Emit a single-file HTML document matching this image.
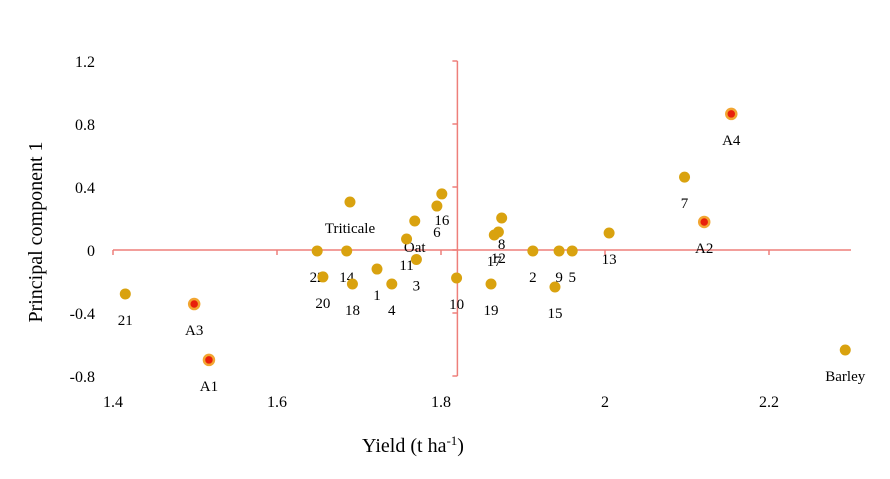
<!DOCTYPE html>
<html><head><meta charset="utf-8">
<style>
html,body{margin:0;padding:0;background:#fff;}
svg{display:block;font-family:"Liberation Serif",serif;}
</style></head>
<body>
<svg id="chart" width="890" height="479">
<g id="axes"></g><g id="marks"></g>
<text x="413" y="452" font-size="20" text-anchor="middle">Yield (t  ha<tspan dy="-7" font-size="13">-1</tspan><tspan dy="7">)</tspan></text>
<text transform="translate(42,232) rotate(-90)" font-size="20" text-anchor="middle">Principal component 1</text>
</svg>
<script>
const names=["Triticale","16","6","Oat","11","3","8","12","17","22","14","20","18","1","4","10","19","2","9","5","13","15","21","A3","A1","7","A2","A4","Barley"];
const yieldVals=[1.689,1.801,1.795,1.768,1.758,1.770,1.874,1.870,1.865,1.649,1.685,1.656,1.692,1.722,1.740,1.819,1.861,1.912,1.944,1.960,2.005,1.939,1.415,1.499,1.517,2.097,2.121,2.154,2.293];
const pcVals=[0.305,0.356,0.279,0.184,0.070,-0.060,0.203,0.114,0.095,-0.006,-0.006,-0.171,-0.216,-0.121,-0.216,-0.178,-0.216,-0.006,-0.006,-0.006,0.108,-0.235,-0.279,-0.343,-0.698,0.463,0.178,0.864,-0.635];
const highlighted=[0,0,0,0,0,0,0,0,0,0,0,0,0,0,0,0,0,0,0,0,0,0,0,1,1,0,1,1,0];
const xTicks=[1.4,1.6,1.8,2,2.2];
const yTicks=[1.2,0.8,0.4,0,-0.4,-0.8];
const xCross=1.82;
const NS="http://www.w3.org/2000/svg";
function sx(v){return 113+(v-1.4)*820;}
function sy(v){return 250-v*157.5;}
function mk(tag,attrs,parent,text){const e=document.createElementNS(NS,tag);for(const k in attrs)e.setAttribute(k,attrs[k]);if(text!==undefined)e.textContent=text;parent.appendChild(e);return e;}
const axes=document.getElementById('axes'),marks=document.getElementById('marks');
const ac="#ee7f7a";
let l=mk('line',{x1:sx(1.4),x2:851,y1:sy(0),y2:sy(0),stroke:ac,'stroke-width':1.5},axes);


l=mk('line',{x1:sx(xCross),x2:sx(xCross),y1:sy(1.2),y2:sy(-0.8),stroke:ac,'stroke-width':1.5},axes);


xTicks.forEach(t=>{
 const tk=mk('line',{x1:sx(t),x2:sx(t),y1:sy(0),y2:sy(0)+5,stroke:ac,'stroke-width':1.5},axes);
 
 
 const tx=mk('text',{x:sx(t),y:407,'font-size':16,'text-anchor':'middle'},axes,String(t));
 
 
});
yTicks.forEach(t=>{
 const tk=mk('line',{x1:sx(xCross)-5,x2:sx(xCross),y1:sy(t),y2:sy(t),stroke:ac,'stroke-width':1.5},axes);
 
 
 const tx=mk('text',{x:95,y:sy(t)+6,'font-size':16,'text-anchor':'end'},axes,String(t));
 
 
});
names.forEach((n,i)=>{
 const cx=sx(yieldVals[i]),cy=sy(pcVals[i]);
 let c;
 if(highlighted[i]){
  c=mk('circle',{cx:cx,cy:cy,r:5,fill:'#e8200c',stroke:'#f2a531','stroke-width':2.5},marks);
 }else{
  c=mk('circle',{cx:cx,cy:cy,r:5.5,fill:'#d9a20f'},marks);
 }
 
 
 const t=mk('text',{x:cx,y:cy+31,'font-size':15,'text-anchor':'middle'},marks,n);
 
 
});
</script>
</body></html>
